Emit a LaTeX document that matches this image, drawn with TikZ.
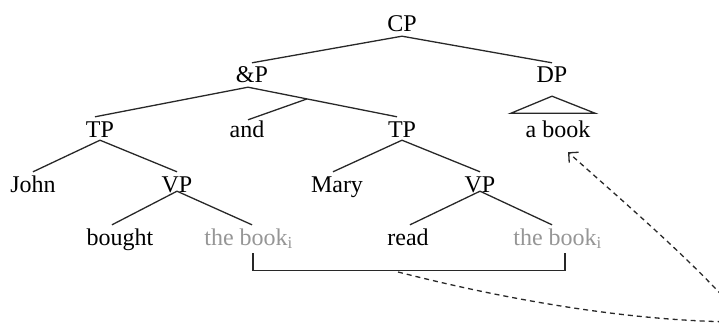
\documentclass[tikz,border=0pt]{standalone}
\usepackage{fontspec}
\setmainfont{Liberation Serif}
\usetikzlibrary{arrows.meta}
\definecolor{tracegray}{RGB}{150,150,150}
\definecolor{linecol}{RGB}{40,40,40}
\begin{document}
\begin{tikzpicture}[x=1pt,y=-1pt,
  lbl/.style={anchor=base, inner sep=4pt, text height=16pt, text depth=0pt, font=\fontsize{24}{28}\selectfont},
  trace/.style={lbl, text=tracegray},
  edge/.style={draw=linecol, line width=1.3pt},
  mv/.style={draw=linecol, line width=1.3pt, dash pattern=on 5pt off 4pt}]
\useasboundingbox (0,0) rectangle (719,326);
\clip (0,0) rectangle (719,326);
% nodes
\node[lbl] (CP) at (402,32) {CP};
\node[lbl] (andP) at (252,83) {\&P};
\node[lbl] (DP) at (552,83) {DP};
\node[lbl] (TP1) at (100,137) {TP};
\node[lbl] (and) at (247,137) {and};
\node[lbl] (TP2) at (402,137) {TP};
\node[lbl] (abook) at (558,137) {a book};
\node[lbl] (John) at (33,192) {John};
\node[lbl] (VP1) at (177,192) {VP};
\node[lbl] (Mary) at (337,192) {Mary};
\node[lbl] (VP2) at (480,192) {VP};
\node[lbl] (bought) at (120,245) {bought};
\node[trace] (book1) at (246,245) {the book\rlap{\textsubscript{i}}};
\node[lbl] (read) at (408,245) {read};
\node[trace] (book2) at (555,245) {the book\rlap{\textsubscript{i}}};
% tree edges
\draw[edge] (CP.south) -- (andP.north);
\draw[edge] (CP.south) -- (DP.north);
\draw[edge] ([xshift=-4pt]andP.south) -- ([xshift=-5pt]TP1.north);
\draw[edge] ([xshift=-4pt]andP.south) -- coordinate[pos=0.396] (join) ([xshift=-5pt]TP2.north);
\draw[edge] ([yshift=-3pt,xshift=1pt]and.north) -- (join);
\draw[edge] ([yshift=-9pt]DP.south) -- ++(-41,17) -- ++(84,0) -- cycle;
\draw[edge] ([yshift=1pt]TP1.south) -- (John.north);
\draw[edge] ([yshift=1pt]TP1.south) -- (VP1.north);
\draw[edge] ([yshift=1pt]TP2.south) -- ([xshift=-4pt]Mary.north);
\draw[edge] ([yshift=1pt]TP2.south) -- (VP2.north);
\draw[edge] ([yshift=5pt]VP1.south) -- ([xshift=-8pt]bought.north);
\draw[edge] ([yshift=5pt]VP1.south) -- ([xshift=6pt]book1.north);
\draw[edge] ([yshift=5pt]VP2.south) -- ([xshift=2pt]read.north);
\draw[edge] ([yshift=5pt]VP2.south) -- ([xshift=-3pt]book2.north);
% bracket
\draw[edge] ([xshift=7pt,yshift=-4pt]book1.south) -- ++(0,17) -| ([xshift=10pt,yshift=-4pt]book2.south);
% movement arrow
\coordinate (mvstart) at (398,272);
\coordinate (mvend) at ([xshift=10pt,yshift=-11pt]abook.south);
\coordinate (offpage) at (745,322);
\draw[mv, -{Straight Barb[length=7pt,width=14pt]}] (mvstart) .. controls (520,303) and (640,322) .. (offpage) .. controls (705,272) and (635,212) .. (mvend);
\end{tikzpicture}
\end{document}
